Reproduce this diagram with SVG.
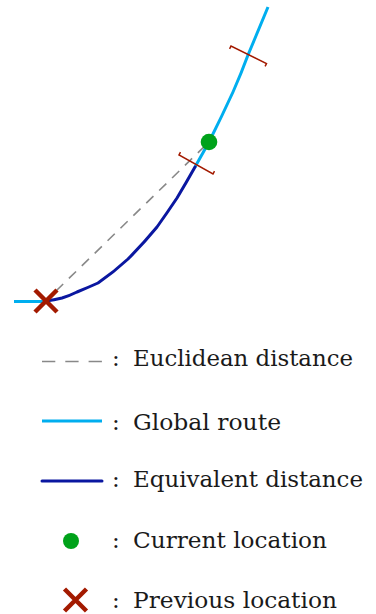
<svg xmlns="http://www.w3.org/2000/svg" width="376" height="614" viewBox="0 0 376 614">
<style>
.route{fill:none;stroke:#00AEEF;stroke-width:3;stroke-linejoin:round}
.equiv{fill:none;stroke:#0A17A0;stroke-width:3;stroke-linejoin:round;stroke-linecap:round}
.eucl{fill:none;stroke:#888888;stroke-width:1.6}
.brk{fill:none;stroke:#A31A00;stroke-width:1.5}
.cross{stroke:#A31A00;stroke-width:4.5}
.cur{fill:#00A21A}
.lbl{font-family:'DejaVu Serif',serif;font-size:23px;fill:#1a1a1a}
</style>
<g id="connectors">
<polyline id="global-route" class="route" points="14,301.5 46,301.5"/>
<path id="global-route-2" class="route" d="M195,167 L209,142 Q222,116 233,92 Q241,74 248,55 L268,7"/>
<path id="equivalent-distance" class="equiv" d="M46,301 Q54,300 62,298 Q70,295.5 77,292 Q88,287.5 98,283 Q114,272 128,259 Q143,244 157,227 Q167,213 177,198 Q186,183 195,167"/>
<line id="euclidean-distance" class="eucl" x1="56" y1="291" x2="209" y2="142" stroke-dasharray="10 8"/>
</g>
<g id="bracket-lower"><path class="brk" d="M180.5,152.2 L179,155 L213,174 L214.5,171.2"/></g>
<g id="bracket-upper"><path class="brk" d="M229.6,48.8 L231,46 L266.5,63.5 L265.1,66.3"/></g>
<g id="current-location"><circle class="cur" cx="209" cy="142" r="8.3"/></g>
<g id="previous-location"><path class="cross" d="M35,290 L57,312 M57,290 L35,312"/></g>
<g id="legend-euclidean">
<line class="eucl" x1="42" y1="361.5" x2="102" y2="361.5" stroke-dasharray="13.3 10"/>
<text class="lbl" x="112" y="366">:</text>
<text class="lbl" x="133" y="366" textLength="220" lengthAdjust="spacingAndGlyphs">Euclidean distance</text>
</g>
<g id="legend-global">
<line class="route" x1="42" y1="421" x2="102" y2="421"/>
<text class="lbl" x="112" y="430">:</text>
<text class="lbl" x="133" y="430" textLength="148" lengthAdjust="spacingAndGlyphs">Global route</text>
</g>
<g id="legend-equivalent">
<line class="equiv" x1="42" y1="481" x2="102" y2="481" stroke-linecap="butt"/>
<text class="lbl" x="112" y="487">:</text>
<text class="lbl" x="133" y="487" textLength="230" lengthAdjust="spacingAndGlyphs">Equivalent distance</text>
</g>
<g id="legend-current">
<circle class="cur" cx="71" cy="541" r="8"/>
<text class="lbl" x="112" y="548">:</text>
<text class="lbl" x="133" y="548" textLength="194" lengthAdjust="spacingAndGlyphs">Current location</text>
</g>
<g id="legend-previous">
<path class="cross" d="M64.5,589 L86.5,611 M86.5,589 L64.5,611"/>
<text class="lbl" x="112" y="608">:</text>
<text class="lbl" x="133" y="608" textLength="204" lengthAdjust="spacingAndGlyphs">Previous location</text>
</g>
</svg>
